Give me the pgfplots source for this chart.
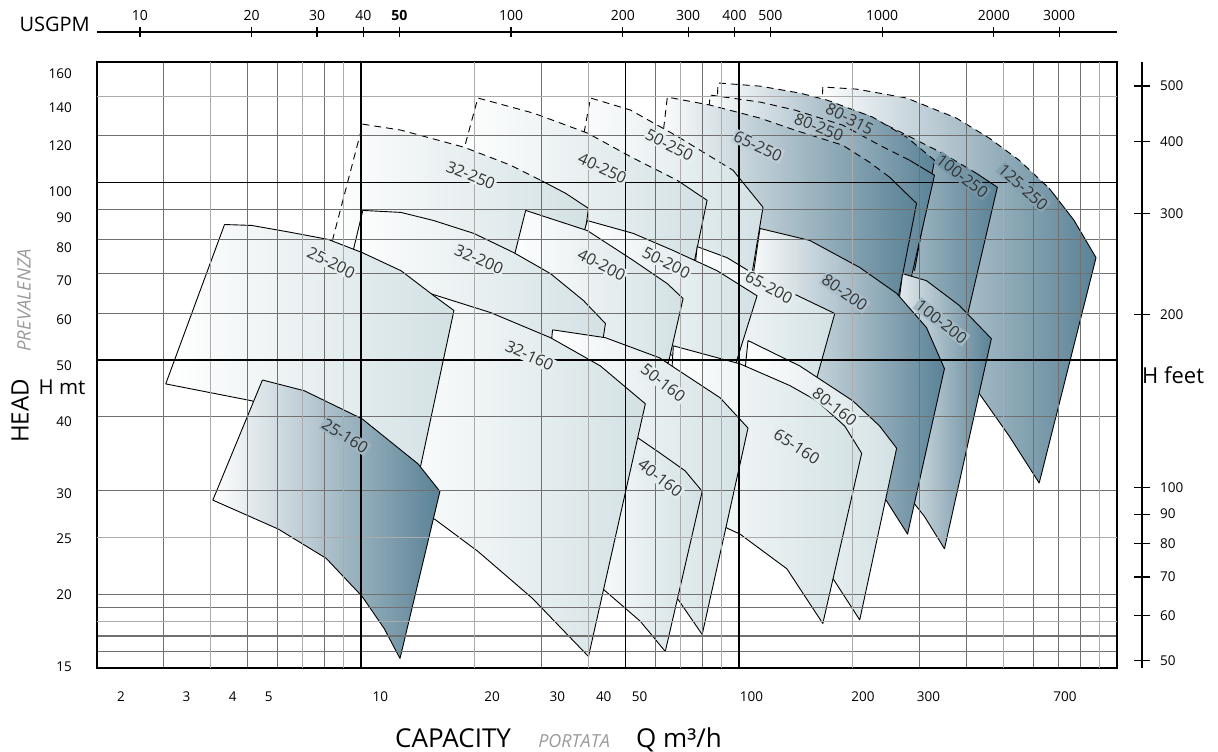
\documentclass[border=0pt]{standalone}
\usepackage{pgfplots}
\pgfplotsset{compat=1.18}
\usepackage{fontspec}
\setmainfont{Open Sans}
\definecolor{lightend}{HTML}{D3E1E4}
\definecolor{darkend}{HTML}{5A8296}
\definecolor{gridg}{HTML}{707070}
\definecolor{gridl}{HTML}{ABABAB}
\definecolor{lbl}{HTML}{333333}
\definecolor{itgrey}{HTML}{9A9A9A}
\newcommand{\fs}[1]{\fontsize{#1pt}{#1pt}\selectfont}
\pgfplotsset{
  lp/.style={left color=white,right color=lightend,draw=black,line width=0.9pt,line join=round},
  dp/.style={left color=white,right color=darkend,draw=black,line width=0.9pt,line join=round},
  lpf/.style={left color=white,right color=lightend,draw=none},
  dpf/.style={left color=white,right color=darkend,draw=none},
  sol/.style={black,line width=0.9pt,line join=round},
  dsh/.style={black,line width=0.9pt,dash pattern=on 7pt off 5pt},
}
\tikzset{lab/.style={font=\fs{16},text=lbl,inner sep=1.2pt}}
\begin{document}
\begin{tikzpicture}
\path[use as bounding box] (-97pt,-84pt) rectangle (1121pt,668pt);
% ---------------- pump fields ----------------
\begin{axis}[width=1020pt,height=606pt,scale only axis,at={(0pt,0pt)},anchor=south west,
    xmode=log,ymode=log,xmin=2,xmax=1000,ymin=15,ymax=160,hide axis]
% 125-250
\addplot[dpf] coordinates {(166.6,145.1) (204.8,143.9) (277.5,139.0) (376.0,128.5) (459.6,118.8) (551.2,109.0) (661.6,97.7) (769.9,86.2) (880.3,74.5) (622.7,30.9) (518.8,37.1) (432.3,43.8) (339.1,51.8) (235.5,65.5) (161.6,97.0)};
\addplot[dsh] coordinates {(161.6,97.0) (166.6,145.1) (204.8,143.9) (277.5,139.0) (376.0,128.5) (459.6,118.8) (551.2,109.0) (661.6,97.7)};
\addplot[sol] coordinates {(661.6,97.7) (769.9,86.2) (880.3,74.5) (622.7,30.9) (518.8,37.1) (432.3,43.8)};
% 100-250
\addplot[dpf] coordinates {(144.8,137.9) (212.4,131.0) (270.8,121.2) (345.4,112.0) (424.6,103.6) (482.5,98.1) (371.5,47.9) (300.3,56.0) (221.6,65.5) (136.3,93.2)};
\addplot[dsh] coordinates {(136.3,93.2) (144.8,137.9) (212.4,131.0) (270.8,121.2) (345.4,112.0) (424.6,103.6)};
\addplot[sol] coordinates {(424.6,103.6) (482.5,98.1) (371.5,47.9)};
% 80-315
\addplot[dpf] coordinates {(88.0,147.4) (113.6,145.6) (144.8,141.7) (170.7,137.9) (225.7,129.0) (277.5,119.3) (329.0,109.0) (291.3,70.8) (208.6,75.1) (136.3,87.9) (84.9,97.0)};
\addplot[dsh] coordinates {(84.9,97.0) (88.0,147.4) (113.6,145.6) (144.8,141.7) (170.7,137.9) (225.7,129.0) (277.5,119.3) (329.0,109.0)};
\addplot[sol] coordinates {(329.0,109.0) (291.3,70.8)};
% 80-250
\addplot[dpf] coordinates {(83.8,140.6) (113.6,136.8) (140.5,132.6) (188.1,125.0) (235.5,115.6) (282.6,109.0) (329.0,102.8) (284.3,68.1) (208.6,70.8) (144.8,79.7) (80.4,97.0)};
\addplot[dsh] coordinates {(80.4,97.0) (83.8,140.6) (113.6,136.8) (140.5,132.6) (188.1,125.0) (235.5,115.6) (282.6,109.0)};
\addplot[sol] coordinates {(282.6,109.0) (329.0,102.8) (284.3,68.1)};
% 65-250
\addplot[dpf] coordinates {(64.6,139.5) (83.8,135.2) (113.6,128.5) (140.5,122.6) (188.1,115.6) (221.6,108.1) (250.2,102.0) (294.9,92.1) (259.6,60.6) (184.8,66.8) (120.7,76.6) (89.1,84.5) (60.0,93.2)};
\addplot[dsh] coordinates {(60.0,93.2) (64.6,139.5) (83.8,135.2) (113.6,128.5) (140.5,122.6) (188.1,115.6) (221.6,108.1) (250.2,102.0)};
\addplot[sol] coordinates {(250.2,102.0) (294.9,92.1) (259.6,60.6)};
% 50-250
\addplot[lpf] coordinates {(40.45,139.0) (51.6,132.6) (68.6,119.7) (96.4,104.8) (115.7,90.7) (106.9,66.8) (78.9,70.8) (54.8,76.6) (40.45,83.5) (35.4,87.9)};
\addplot[dsh] coordinates {(35.4,87.9) (40.45,139.0) (51.6,132.6) (68.6,119.7) (96.4,104.8)};
\addplot[sol] coordinates {(96.4,104.8) (115.7,90.7) (106.9,66.8)};
% 40-250
\addplot[lpf] coordinates {(20.36,139.0) (28.6,131.0) (39.7,121.2) (52.5,109.9) (68.6,100.8) (82.3,93.2) (74.3,68.1) (48.5,79.7) (29.85,87.9) (17.49,97.0)};
\addplot[dsh] coordinates {(17.49,97.0) (20.36,139.0) (28.6,131.0) (39.7,121.2) (52.5,109.9) (68.6,100.8)};
\addplot[sol] coordinates {(68.6,100.8) (82.3,93.2) (74.3,68.1)};
% 32-250
\addplot[lpf] coordinates {(10.1,125.5) (12.75,122.6) (18.70,114.7) (24.87,106.9) (29.85,100.8) (34.75,95.8) (39.96,90.3) (36.9,63.0) (20.74,63.0) (12.75,66.8) (7.94,69.5)};
\addplot[dsh] coordinates {(7.94,69.5) (10.1,125.5) (12.75,122.6) (18.70,114.7) (24.87,106.9) (29.85,100.8)};
\addplot[sol] coordinates {(29.85,100.8) (34.75,95.8) (39.96,90.3) (36.9,63.0)};
% 100-200
\addplot[dp] coordinates {(270.8,70.0) (313.3,68.1) (383.0,61.8) (465.2,54.3) (349.6,23.9) (309.6,27.1) (274.2,29.9) (235.5,35.0) (270.8,70.0)};
% 80-200
\addplot[dp] coordinates {(113.6,83.5) (153.9,79.7) (208.6,71.7) (261.2,64.8) (313.3,56.7) (349.6,48.3) (279.2,25.3) (245.7,28.8) (208.6,32.4) (163.6,36.4) (128.3,39.4) (103.7,56.0) (113.6,83.5)};
% 65-200
\addplot[lp] coordinates {(77.5,77.8) (92.97,74.5) (113.6,68.9) (138.8,64.8) (179.2,59.9) (149.3,39.4) (113.6,45.2) (89.1,48.8) (73.3,56.0) (77.5,77.8)};
% 50-200
\addplot[lp] coordinates {(39.7,86.1) (52.5,81.9) (67.0,76.6) (87.5,70.8) (111.6,64.2) (95.8,47.0) (78.9,48.8) (63.8,51.4) (48.5,60.6) (36.9,73.7) (39.7,86.1)};
% 40-200
\addplot[lp] coordinates {(27.25,89.6) (39.7,82.8) (52.5,73.7) (64.6,67.3) (71.1,63.5) (65.0,49.4) (48.5,51.8) (33.7,60.6) (24.1,65.5) (27.25,89.6)};
% 32-200
\addplot[lp] coordinates {(10.1,89.6) (12.75,88.9) (15.58,86.1) (19.87,81.9) (25.33,76.0) (31.7,70.0) (38.77,63.0) (44.3,57.6) (40.45,39.4) (33.7,44.3) (23.4,51.8) (14.4,58.3) (8.86,63.0) (10.1,89.6)};
% 80-160
\addplot[lp] coordinates {(105.6,53.9) (144.8,48.8) (199.9,42.6) (235.5,38.6) (261.2,35.4) (208.6,18.1) (177.0,21.3) (144.8,24.6) (113.6,32.4) (100.6,39.4) (105.6,53.9)};
% 65-160
\addplot[lp] coordinates {(67.0,52.8) (100.6,49.2) (136.3,45.2) (160.6,42.6) (190.4,38.6) (211.1,34.7) (166.6,17.85) (133.8,22.1) (100.6,25.3) (92.97,25.9) (74.3,28.8) (63.8,31.1) (67.0,52.8)};
% 50-160
\addplot[lp] coordinates {(32.1,56.2) (44.3,54.5) (61.5,50.4) (89.1,43.1) (105.6,38.3) (79.9,17.1) (69.0,19.6) (54.8,22.8) (42.97,26.6) (30.8,42.6) (32.1,56.2)};
% 40-160
\addplot[lp] coordinates {(51.6,37.6) (61.9,34.7) (72.0,32.4) (79.9,29.9) (63.8,16.0) (54.8,18.0) (42.97,20.6) (36.9,22.8) (51.6,37.6)};
% 32-160
\addplot[lp] coordinates {(13.14,66.0) (15.30,64.7) (22.03,60.1) (31.7,54.5) (42.97,48.8) (56.5,42.1) (39.96,15.69) (28.4,19.69) (20.36,23.66) (15.68,26.8) (11.29,29.9) (13.14,66.0)};
% 25-200
\addplot[lp] coordinates {(4.35,84.8) (5.13,84.5) (6.54,82.2) (8.18,80.0) (10.06,76.0) (12.75,70.8) (15.58,64.2) (17.60,60.6) (13.55,27.7) (10.0,34.3) (6.94,39.4) (5.13,42.6) (3.04,45.5) (4.35,84.8)};
% 25-160
\addplot[dp] coordinates {(5.48,46.2) (7.07,44.3) (10.06,39.7) (14.14,33.3) (16.16,29.9) (12.67,15.57) (11.50,17.51) (10.06,19.84) (8.08,23.02) (6.04,25.8) (4.05,28.9) (5.48,46.2)};
\end{axis}
% ---------------- grid, frame, curve labels ----------------
\begin{axis}[width=1020pt,height=606pt,scale only axis,at={(0pt,0pt)},anchor=south west,
  xmode=log,ymode=log,xmin=2,xmax=1000,ymin=15,ymax=160,
  xtick={3,5,6,8,30,60,80,300,400,600,700,800},
  extra x ticks={4,7,9,20,40,70,90,200,500,900},
  ytick={16,17,19,20,30,40,60,70,80,90,120},
  extra y ticks={18,25,140},
  xticklabels={},yticklabels={},
  extra x tick labels={},extra y tick labels={},
  xminorticks=false,yminorticks=false,
  major tick length=0pt,
  grid=major,
  major grid style={draw=gridg,line width=1.1pt},
  extra x tick style={grid=major,major grid style={draw=gridl,line width=1.1pt}},
  extra y tick style={grid=major,major grid style={draw=gridl,line width=1.1pt}},
  axis line style={line width=2.6pt,black}]
\addplot[black,line width=1.5pt] coordinates {(10,15) (10,160)};
\addplot[black,line width=1.5pt] coordinates {(50,15) (50,160)};
\addplot[black,line width=1.5pt] coordinates {(100,15) (100,160)};
\addplot[black,line width=1.5pt] coordinates {(2,50) (1000,50)};
\addplot[black,line width=1.5pt] coordinates {(2,100) (1000,100)};
\node[lab,rotate=-27,fill=lightend!57] at (axis cs:8.33,73.1) {25-200};
\node[lab,rotate=-32,fill=darkend!58] at (axis cs:9.07,37.1) {25-160};
\node[lab,rotate=-22,fill=lightend!56] at (axis cs:19.5,102.8) {32-250};
\node[lab,rotate=-23,fill=lightend!52] at (axis cs:20.5,74.0) {32-200};
\node[lab,rotate=-25,fill=lightend!56] at (axis cs:27.9,50.8) {32-160};
\node[lab,rotate=-25,fill=lightend!59] at (axis cs:43.5,105.6) {40-250};
\node[lab,rotate=-27,fill=lightend!54] at (axis cs:43.3,72.5) {40-200};
\node[lab,rotate=-38,fill=lightend!67] at (axis cs:61.9,31.5) {40-160};
\node[lab,rotate=-27,fill=lightend!53] at (axis cs:65.4,115.6) {50-250};
\node[lab,rotate=-27,fill=lightend!50] at (axis cs:64.2,73.1) {50-200};
\node[lab,rotate=-38,fill=lightend!58] at (axis cs:63.0,45.7) {50-160};
\node[lab,rotate=-25,fill=darkend!39] at (axis cs:112.2,115.1) {65-250};
\node[lab,rotate=-28,fill=lightend!55] at (axis cs:120.0,66.3) {65-200};
\node[lab,rotate=-33,fill=lightend!67] at (axis cs:142.2,35.6) {65-160};
\node[lab,rotate=-21] at (axis cs:162.6,124.0) {80-250};
\node[lab,rotate=-27] at (axis cs:196.3,128.0) {80-315};
\node[lab,rotate=-35,fill=darkend!50] at (axis cs:190.4,65.0) {80-200};
\node[lab,rotate=-38,fill=lightend!60] at (axis cs:179.2,41.6) {80-160};
\node[lab,rotate=-38,fill=darkend!84] at (axis cs:389.9,102.4) {100-250};
\node[lab,rotate=-38,fill=darkend!55] at (axis cs:343.3,58.0) {100-200};
\node[lab,rotate=-42,fill=darkend!74] at (axis cs:564.9,98.1) {125-250};
\end{axis}
% ---------------- bottom and left tick labels, titles ----------------
\begin{axis}[width=1020pt,height=606pt,scale only axis,at={(0pt,0pt)},anchor=south west,
  xmode=log,ymode=log,xmin=1.723,xmax=967,ymin=14.94,ymax=167.8,clip=false,
  axis line style={draw=none},major tick length=0pt,tick style={draw=none},
  xminorticks=false,yminorticks=false,
  xtick={2,3,4,5,10,20,30,40,50,100,200,300,700},
  xticklabels={2,3,4,5,10,20,30,40,50,100,200,300,700},
  ytick={15,20,25,30,40,50,60,70,80,90,100,120,140,160},
  yticklabels={15,20,25,30,40,50,60,70,80,90,100,120,140,160},
  x tick label style={anchor=center,yshift=-29pt,inner sep=0pt,font=\fs{13.5}},
  y tick label style={anchor=east,xshift=-25pt,inner sep=0pt,font=\fs{13.5}}]
\node[anchor=base west,inner sep=0pt,font=\fs{26}] at (axis description cs:0.2922,-0.1304) {CAPACITY};
\node[anchor=base west,inner sep=0pt,font=\fs{18}\itshape,text=itgrey] at (axis description cs:0.4324,-0.1304) {PORTATA};
\node[anchor=base west,inner sep=0pt,font=\fs{26}] at (axis description cs:0.5284,-0.1304) {Q m³/h};
\node[rotate=90,inner sep=0pt,font=\fs{24}] at (axis description cs:-0.0755,0.4241) {HEAD};
\node[inner sep=0pt,font=\fs{20.5}] at (axis description cs:-0.0343,0.4637) {H mt};
\node[rotate=90,inner sep=0pt,font=\fs{18.5}\itshape,text=itgrey] at (axis description cs:-0.0716,0.607) {PREVALENZA};
\end{axis}
% ---------------- top USGPM axis ----------------
\begin{axis}[width=1020pt,height=606pt,scale only axis,at={(0pt,30pt)},anchor=south west,
  xmode=log,xmin=7.66,xmax=4293,ymin=0,ymax=1,clip=false,
  axis x line=top,axis y line=none,
  x axis line style={-,line width=1.4pt},
  xtick={10,20,30,40,50,100,200,300,400,500,1000,2000,3000},
  xticklabels={10,20,30,40,\textbf{50},100,200,300,400,500,1000,2000,3000},
  xminorticks=false,tick align=center,major tick length=10pt,
  tick style={black,line width=1.2pt},
  x tick label style={anchor=center,yshift=11pt,inner sep=0pt,font=\fs{14}}]
\node[anchor=base east,inner sep=0pt,font=\fs{20}] at (axis description cs:-0.0069,1) {USGPM};
\end{axis}
% ---------------- right feet axis ----------------
\begin{axis}[width=1020pt,height=606pt,scale only axis,at={(25pt,0pt)},anchor=south west,
  ymode=log,ymin=48.6,ymax=550.5,xmin=0,xmax=1,clip=false,
  axis y line=right,axis x line=none,
  y axis line style={-,line width=1.4pt},
  ytick={50,60,70,80,90,100,200,300,400,500},
  yticklabels={50,60,70,80,90,100,200,300,400,500},
  yminorticks=false,tick align=center,major tick length=16pt,
  tick style={black,line width=1.2pt},
  y tick label style={anchor=west,xshift=10pt,inner sep=0pt,font=\fs{13.5}}]
\node[anchor=west,inner sep=0pt,font=\fs{22}] at (axis description cs:1,0.4835) {H feet};
\end{axis}
\end{tikzpicture}
\end{document}
